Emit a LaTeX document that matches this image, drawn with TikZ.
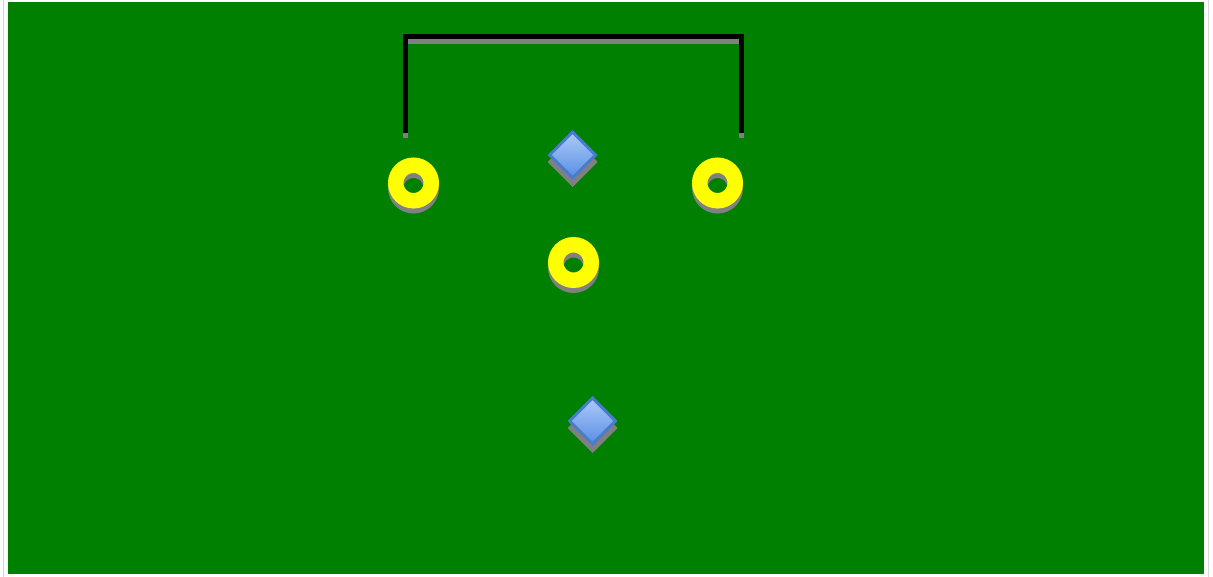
\documentclass[tikz,border=0pt]{standalone}
\usetikzlibrary{shapes.geometric}
\definecolor{bggreen}{HTML}{008000}
\definecolor{shadowgray}{HTML}{808080}
\definecolor{ringyellow}{HTML}{FFFF00}
\definecolor{diaedge}{HTML}{4A7CCC}
\definecolor{diatop}{HTML}{ABCBFA}
\definecolor{diabot}{HTML}{5A8EE2}
\definecolor{framegray}{HTML}{D8D8D8}
\begin{document}
\begin{tikzpicture}[x=1pt,y=-1pt,
  ring/.style={circle,draw=ringyellow,line width=15.5pt,minimum size=35.5pt,inner sep=0pt},
  ringshadow/.style={circle,draw=shadowgray,line width=15.5pt,minimum size=35.5pt,inner sep=0pt},
  gem/.style={diamond,draw=diaedge,line width=3pt,top color=diatop,bottom color=diabot,minimum width=47pt,minimum height=47pt,inner sep=0pt},
  gemshadow/.style={diamond,draw=shadowgray,fill=shadowgray,line width=3pt,minimum width=47pt,minimum height=47pt,inner sep=0pt},
  bracket/.style={line width=5pt,line join=miter,line cap=butt},
]
\useasboundingbox (0,0) rectangle (1213,577);
\fill[white] (0,0) rectangle (1213,577);
\draw[framegray,line width=1pt] (3.5,0) -- (3.5,577);
\draw[framegray,line width=1pt] (1208.5,0) -- (1208.5,577);
\fill[bggreen] (7.5,2.5) rectangle (1204,574);

% bracket
\coordinate (bl) at (405.5,133);
\coordinate (tl) at (405.5,36.5);
\coordinate (tr) at (741.5,36.5);
\coordinate (br) at (741.5,133);
\draw[bracket,shadowgray] ([yshift=-5pt]bl) -- ([yshift=-5pt]tl) -- ([yshift=-5pt]tr) -- ([yshift=-5pt]br);
\draw[bracket,black] (bl) -- (tl) -- (tr) -- (br);

% rings
\node[ringshadow] at (413.5,188) {};
\node[ring] (ringL) at (413.5,183) {};
\node[ringshadow] at (717.5,188) {};
\node[ring] (ringR) at (717.5,183) {};
\node[ringshadow] at (573.5,267.5) {};
\node[ring] (ringM) at (573.5,262.5) {};

% diamonds
\node[gemshadow] at (572.5,162) {};
\node[gem] (gemT) at (572.5,155) {};
\node[gemshadow] at (592.5,428) {};
\node[gem] (gemB) at (592.5,421) {};
\end{tikzpicture}
\end{document}
